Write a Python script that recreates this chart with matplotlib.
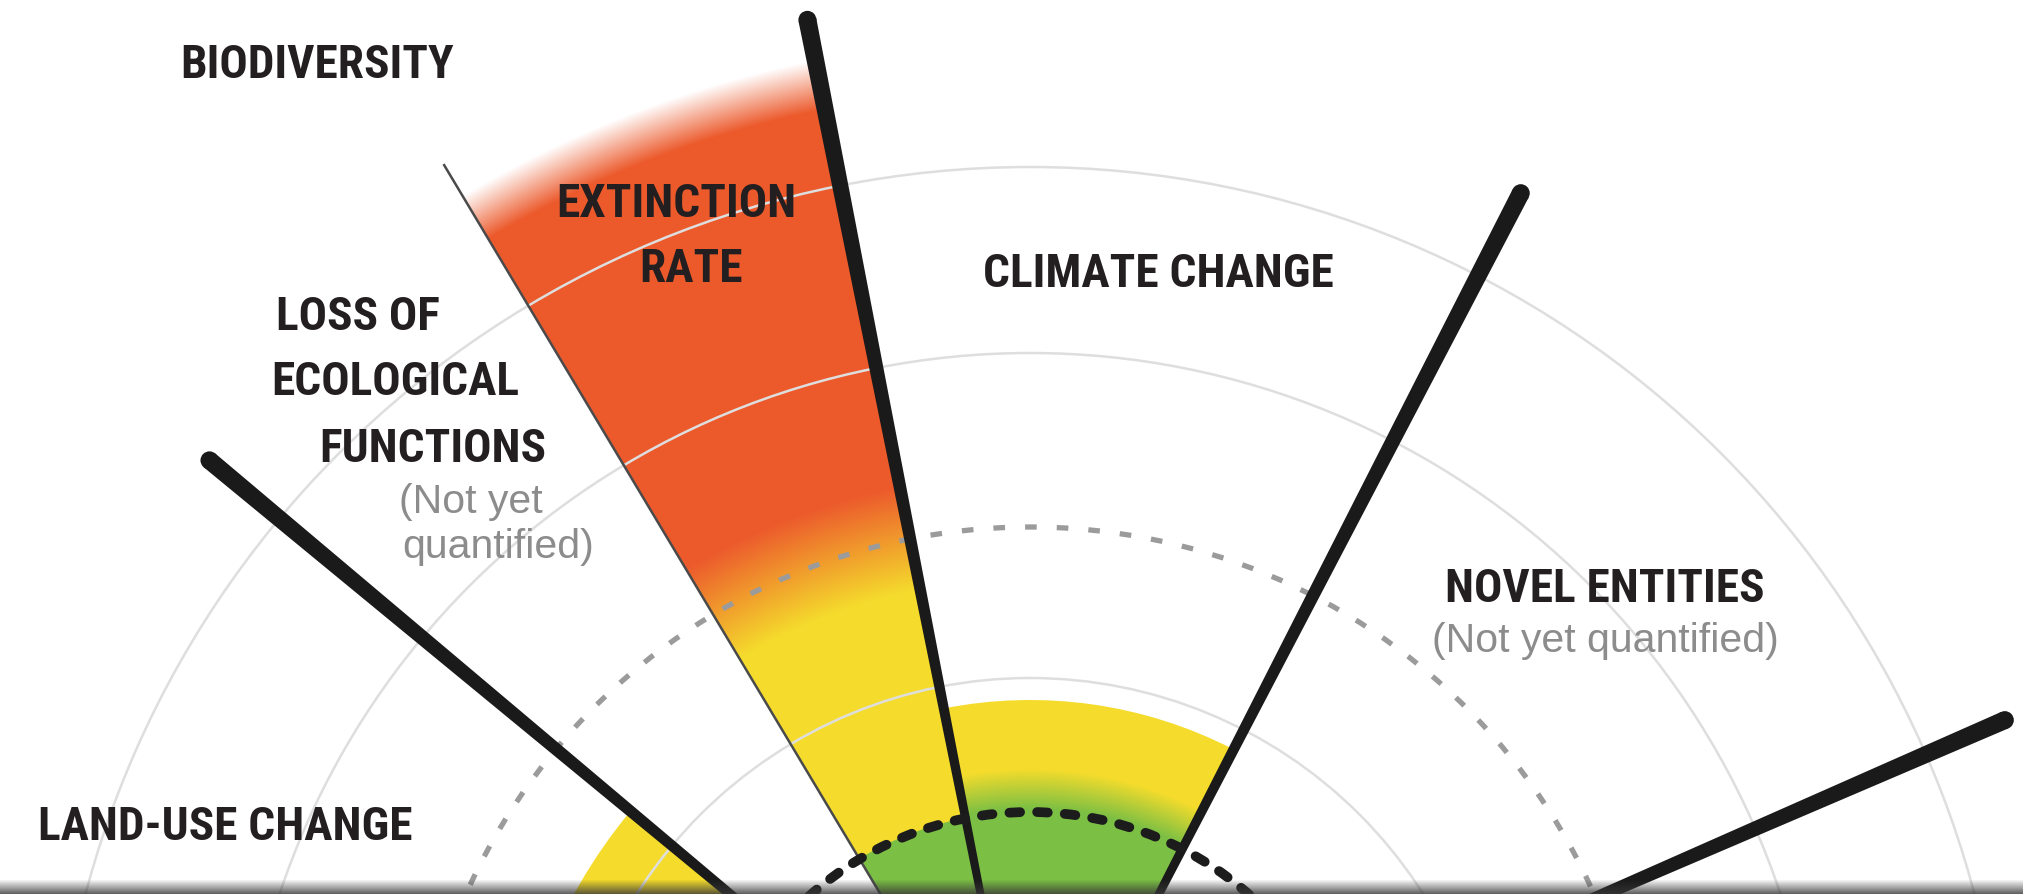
import numpy as np
import matplotlib.pyplot as plt
from matplotlib.patches import Wedge, Polygon, Circle
from matplotlib import font_manager
from matplotlib.colors import to_rgba

# picture size (px) and where the centre of the wheel sits (below the crop)
W, H = 2024, 894
cx, cy = 1030, 1144

green = '#7bbf44'
yellow = '#f5dc2c'
red = '#ec5a2c'

# thick black dividers between boundaries (angle in deg, length in px)
divider_angles = [23.5, 62.7, 101.2, 140.2]
divider_lengths = [1063, 1070, 1146, 1068]
# thin line splitting biodiversity into its two parts
split_angle = 120.9
split_length = 1142

# rings
safe_radius = 332          # bold dashed boundary
uncertainty_radius = 617   # grey dashed
grid_radii = [466, 791, 977]

# coloured segments: (theta1, theta2, [(radius, colour, alpha), ...])
climate_stops = [(0, green, 1), (335, green, 1), (375, yellow, 1), (444, yellow, 1)]
extinction_stops = [(0, green, 1), (332, green, 1), (333, yellow, 1), (565, yellow, 1),
                    (670, red, 1), (1055, red, 1), (1105, red, 0)]
landuse_stops = [(0, green, 1), (332, green, 1), (333, yellow, 1), (520, yellow, 1)]
segments = [(62.7, 101.2, climate_stops),
            (101.2, 120.9, extinction_stops),
            (140.2, 179.0, landuse_stops)]

# labels: text, centre x and baseline y in picture px
labels = ['BIODIVERSITY', 'EXTINCTION', 'RATE', 'CLIMATE CHANGE', 'LOSS OF',
          'ECOLOGICAL', 'FUNCTIONS', 'NOVEL ENTITIES', 'LAND-USE CHANGE']
label_xy = [(317, 78), (676, 217), (691, 282), (1158, 287), (358, 330),
            (395, 395), (433, 462), (1605, 602), (225, 840)]
notes = ['(Not yet', 'quantified)', '(Not yet quantified)']
note_xy = [(471, 513), (498, 558), (1605, 652)]


def has_font(name):
    try:
        font_manager.findfont(font_manager.FontProperties(family=name, weight='bold'),
                              fallback_to_default=False)
        return True
    except ValueError:
        return False


bold_kw = dict(family='DejaVu Sans', weight='bold', fontsize=27)
for fam, size in [('Liberation Sans Narrow', 33), ('DejaVu Sans Condensed', 31),
                  ('Roboto Condensed', 34), ('Roboto', 29)]:
    if has_font(fam):
        bold_kw = dict(family=fam, weight='bold', fontsize=size)
        break
note_kw = dict(family='Liberation Sans', fontsize=29.5, color='#8c8c8c')

fig = plt.figure(figsize=(W / 100, H / 100), dpi=100)
ax = fig.add_axes([0, 0, 1, 1])
ax.set_xlim(-cx, W - cx)
ax.set_ylim(cy - H, cy)
ax.axis('off')

# radial colour fills, one image per segment clipped to its wedge
xs = np.arange(W) + 0.5 - cx
ys = cy - H + np.arange(H) + 0.5
X, Y = np.meshgrid(xs, ys)
R = np.hypot(X, Y)
extent = (-cx, W - cx, cy - H, cy)
for t1, t2, stops in segments:
    radii = [s[0] for s in stops]
    cols = np.array([to_rgba(s[1], s[2]) for s in stops])
    img = np.zeros((H, W, 4))
    for k in range(4):
        img[..., k] = np.interp(R, radii, cols[:, k])
    wedge = Wedge((0, 0), radii[-1], t1, t2, transform=ax.transData)
    im = ax.imshow(img, extent=extent, origin='lower', interpolation='bilinear',
                   zorder=1, aspect='auto')
    im.set_clip_path(wedge)

# thin grey rings
for r in grid_radii:
    ax.add_patch(Circle((0, 0), r, fill=False, ec='#dedede', lw=1.8, zorder=3))

ax.add_patch(Circle((0, 0), uncertainty_radius, fill=False, ec='#9b9b9b', lw=3.8,
                    linestyle=(0, (2.2, 3.8)), zorder=3))
bold_ring = Circle((0, 0), safe_radius, fill=False, ec='#1c1c1c', lw=7,
                   linestyle=(0, (1.1, 1.75)), zorder=6)
bold_ring.set_capstyle('round')
ax.add_patch(bold_ring)

# split line inside biodiversity
a = np.radians(split_angle)
ax.plot([0, split_length * np.cos(a)], [0, split_length * np.sin(a)],
        color='#4a4a4a', lw=1.8, zorder=4, solid_capstyle='butt')

# tapered dividers with round outer end
w_in, w_out = 5, 18
for ang, L in zip(divider_angles, divider_lengths):
    a = np.radians(ang)
    u = np.array([np.cos(a), np.sin(a)])
    n = np.array([-u[1], u[0]])
    pts = [n * w_in / 2, u * L + n * w_out / 2, u * L - n * w_out / 2, -n * w_in / 2]
    ax.add_patch(Polygon(pts, closed=True, fc='#1a1a1a', ec='none', zorder=5))
    ax.add_patch(Circle(u * L, w_out / 2, fc='#1a1a1a', ec='none', zorder=5))

for t, (px, py) in zip(labels, label_xy):
    ax.text(px - cx, cy - py, t, ha='center', va='baseline', color='#231f20',
            zorder=8, **bold_kw)
for t, (px, py) in zip(notes, note_xy):
    ax.text(px - cx, cy - py, t, ha='center', va='baseline', zorder=8, **note_kw)

# shadow strip along the bottom edge
sax = fig.add_axes([0, 0, 1, 0.016])
shade = np.zeros((20, 2, 4))
shade[..., :3] = 0.22
shade[..., 3] = np.linspace(0.8, 0, 20)[:, None]
sax.imshow(shade, aspect='auto', extent=(0, 1, 0, 1), origin='lower')
sax.axis('off')

fig.savefig('out.png', dpi=100)
